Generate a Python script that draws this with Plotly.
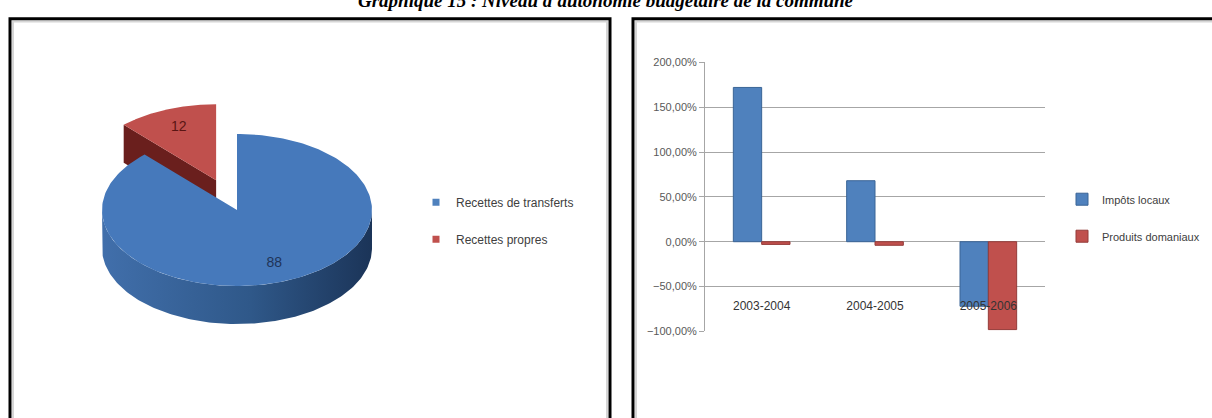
import numpy as np
import plotly.graph_objects as go

# ---- data -------------------------------------------------------------
pie_labels = ["Recettes de transferts", "Recettes propres"]
pie_values = [88, 12]

periods = ["2003-2004", "2004-2005", "2005-2006"]
impots_locaux = [1.72, 0.68, -0.72]
produits_domaniaux = [-0.03, -0.04, -0.98]

y_ticks = [-1.0, -0.5, 0.0, 0.5, 1.0, 1.5, 2.0]

title_text = "Graphique 15 : Niveau d'autonomie budgétaire de la commune"

# ---- page geometry (pixels) -------------------------------------------
W, H = 1212, 418


def px(x):
    return x / W


def py(y):
    return 1 - y / H


# pie placement: centre and radius in pixels, tilt / depth / explode in radius units
CX, CY, R = 237, 210, 135
TILT, DEPTH, EXPLODE = 0.58, 0.29, 0.42

top_colors = ["#4679bb", "#c0504d"]
face_colors = ["#2b4f7e", "#6a1f1d"]
side_scales = [
    [[0, "#416fab"], [0.55, "#2f5889"], [1, "#1b3458"]],
    [[0, "#8a2c29"], [1, "#5a1715"]],
]
label_colors = ["#1f3458", "#5a1513"]
legend_colors = ["#4f81bd", "#c0504d"]

SANS = "Liberation Sans Narrow, Liberation Sans, Arial, sans-serif"

fig = go.Figure()

# ---- 3D pie built from the slice values --------------------------------
fracs = np.array(pie_values, dtype=float) / sum(pie_values)
starts = np.concatenate([[0.0], np.cumsum(fracs)[:-1]]) * 2 * np.pi
ends = np.cumsum(fracs) * 2 * np.pi
mids = (starts + ends) / 2
largest = int(np.argmax(fracs))


def pt(a, dx, dy, down=0.0):
    return np.sin(a) + dx, TILT * np.cos(a) + dy - down


slices = []
for i in range(len(pie_values)):
    e = 0.0 if i == largest else EXPLODE
    dx, dy = e * np.sin(mids[i]), e * TILT * np.cos(mids[i])
    slices.append((i, dx, dy))

# back slices first
slices.sort(key=lambda s: -np.cos(mids[s[0]]))

for i, dx, dy in slices:
    a0, a1 = starts[i], ends[i]
    # exposed cut faces
    for a, visible in ((a0, np.sin(a0) < -1e-9), (a1, np.sin(a1) > 1e-9)):
        if visible:
            rx, ry = pt(a, dx, dy)
            fx = [dx, rx, rx, dx, dx]
            fy = [dy, ry, ry - DEPTH, dy - DEPTH, dy]
            fig.add_trace(go.Scatter(
                x=fx, y=fy, xaxis="x2", yaxis="y2", mode="lines",
                line=dict(width=0), fill="toself", fillcolor=face_colors[i],
                hoverinfo="skip", showlegend=False))
    # outer side wall (front half only)
    lo, hi = max(a0, np.pi / 2), min(a1, 3 * np.pi / 2)
    if lo < hi:
        arc = np.linspace(lo, hi, 160)
        tx, ty = pt(arc, dx, dy)
        bx, by = pt(arc[::-1], dx, dy, DEPTH)
        fig.add_trace(go.Scatter(
            x=np.concatenate([tx, bx, tx[:1]]), y=np.concatenate([ty, by, ty[:1]]),
            xaxis="x2", yaxis="y2", mode="lines", line=dict(width=0),
            fill="toself", fillgradient=dict(type="horizontal", colorscale=side_scales[i]),
            hoverinfo="skip", showlegend=False))
    # top face
    arc = np.linspace(a0, a1, 240)
    tx, ty = pt(arc, dx, dy)
    fig.add_trace(go.Scatter(
        x=np.concatenate([[dx], tx, [dx]]), y=np.concatenate([[dy], ty, [dy]]),
        xaxis="x2", yaxis="y2", mode="lines", line=dict(width=0),
        fill="toself", fillcolor=top_colors[i], hoverinfo="skip", showlegend=False))
    # value label
    lx, ly = pt(mids[i], dx, dy)
    lx, ly = dx + 0.75 * (lx - dx), dy + 0.75 * (ly - dy)
    fig.add_trace(go.Scatter(
        x=[lx], y=[ly], xaxis="x2", yaxis="y2", mode="text",
        text=[str(pie_values[i])],
        textfont=dict(family=SANS, size=14, color=label_colors[i]),
        hoverinfo="skip", showlegend=False))

# pie legend entries
for i, lab in enumerate(pie_labels):
    fig.add_trace(go.Scatter(
        x=[None], y=[None], xaxis="x2", yaxis="y2", mode="markers",
        marker=dict(symbol="square", size=7, color=legend_colors[i]),
        name=lab, legend="legend", legendgroup=f"p{i}", showlegend=True))

# ---- bar chart --------------------------------------------------------
fig.add_trace(go.Bar(
    x=periods, y=impots_locaux, name="Impôts locaux",
    marker=dict(color="#4f81bd", line=dict(color="#3a6496", width=1)),
    legend="legend2", legendgroup="b0", hoverinfo="skip"))
fig.add_trace(go.Bar(
    x=periods, y=produits_domaniaux, name="Produits domaniaux",
    marker=dict(color="#c0504d", line=dict(color="#943b39", width=1)),
    legend="legend2", legendgroup="b1", hoverinfo="skip"))

# ---- frames -----------------------------------------------------------
shapes = []
for x0, x1 in ((10, 610), (633, 1230)):
    shapes.append(dict(type="rect", xref="paper", yref="paper",
                       x0=px(x0 + 3), x1=px(x1 - 3), y0=py(430), y1=py(16),
                       line=dict(color="#d6d6d6", width=2), layer="below"))
    shapes.append(dict(type="rect", xref="paper", yref="paper",
                       x0=px(x0), x1=px(x1), y0=py(430), y1=py(13),
                       line=dict(color="#000000", width=3), layer="above"))

fig.update_layout(
    width=W, height=H,
    margin=dict(l=0, r=0, t=0, b=0),
    paper_bgcolor="white", plot_bgcolor="rgba(0,0,0,0)",
    separators=", ",
    barmode="group", bargap=0.5, bargroupgap=0.0,
    shapes=shapes,
    xaxis=dict(domain=[px(705), px(1045)], anchor="free", position=py(300),
               type="category", showline=False, ticks="", showgrid=False,
               tickfont=dict(family=SANS, size=12, color="#333333")),
    yaxis=dict(domain=[py(335), py(58)], range=[-1.0, 2.0], tickvals=y_ticks,
               tickformat=".2%", showgrid=True, gridcolor="#a6a6a6", gridwidth=1,
               zeroline=True, zerolinecolor="#a6a6a6", zerolinewidth=1,
               showline=True, linecolor="#a6a6a6", ticks="outside", ticklen=5,
               tickcolor="#a6a6a6",
               tickfont=dict(family=SANS, size=11, color="#595959")),
    xaxis2=dict(domain=[px(10), px(610)], range=[(10 - CX) / R, (610 - CX) / R],
                visible=False, anchor="y2"),
    yaxis2=dict(domain=[0, py(13)], range=[(CY - 418) / R, (CY - 13) / R],
                visible=False, anchor="x2"),
    legend=dict(x=px(416), y=py(187), xanchor="left", yanchor="top",
                tracegroupgap=18, bgcolor="rgba(0,0,0,0)",
                font=dict(family=SANS, size=12, color="#404040")),
    legend2=dict(x=px(1062), y=py(184), xanchor="left", yanchor="top",
                 tracegroupgap=18, bgcolor="rgba(0,0,0,0)",
                 font=dict(family=SANS, size=11, color="#404040")),
    annotations=[dict(text=f"<b><i>{title_text}</i></b>", xref="paper", yref="paper",
                      x=0.5, y=1, xanchor="center", yanchor="bottom", yshift=-7,
                      showarrow=False,
                      font=dict(family="Liberation Serif, Times New Roman, serif",
                                size=19, color="#000000"))],
)

fig.write_html("out.html")
